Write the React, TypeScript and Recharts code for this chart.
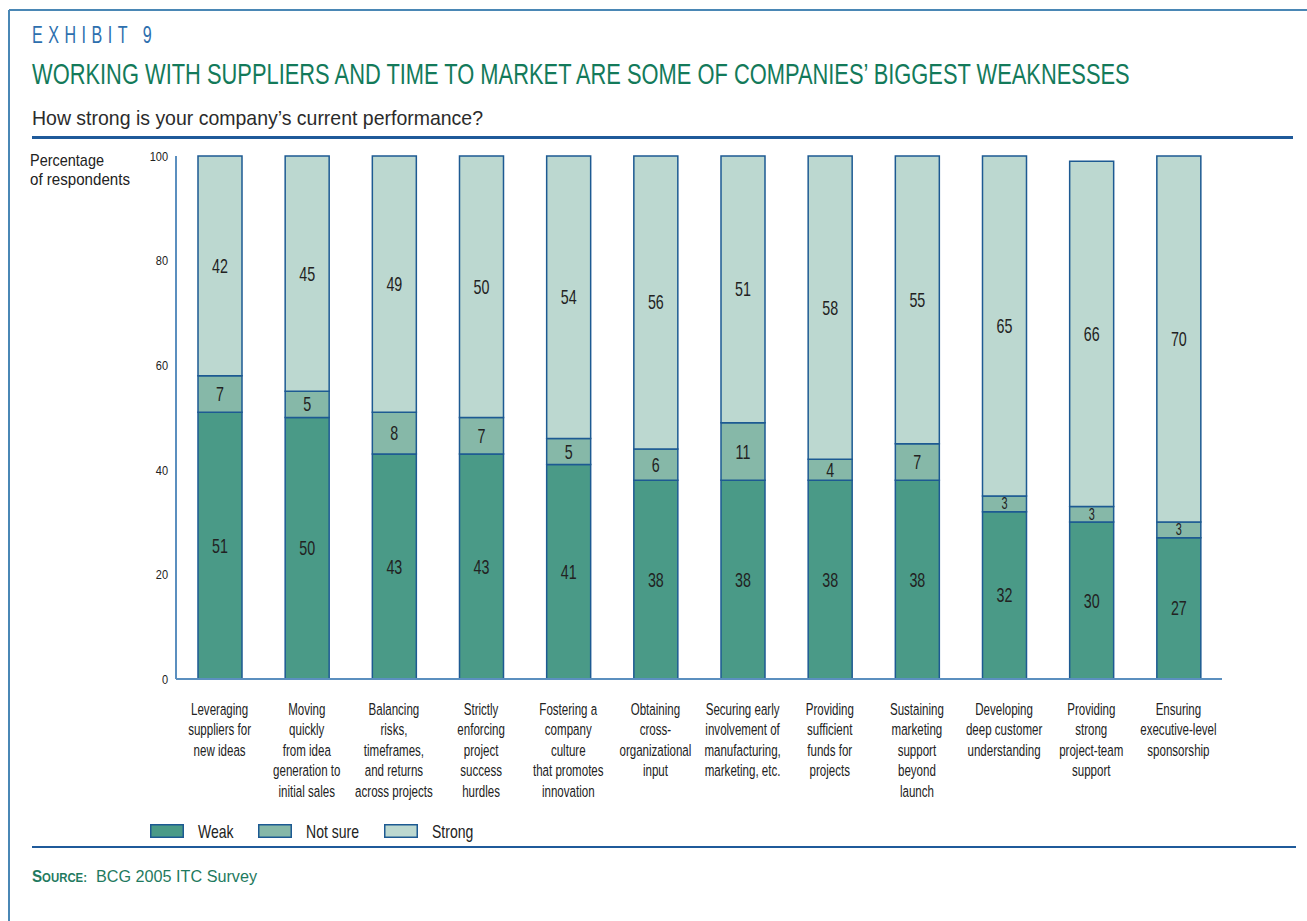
import React from "react";
import { BarChart, Bar, XAxis, YAxis, LabelList } from "recharts";

const categories: string[] = [
  "Leveraging\nsuppliers for\nnew ideas",
  "Moving\nquickly\nfrom idea\ngeneration to\ninitial sales",
  "Balancing\nrisks,\ntimeframes,\nand returns\nacross projects",
  "Strictly\nenforcing\nproject\nsuccess\nhurdles",
  "Fostering a\ncompany\nculture\nthat promotes\ninnovation",
  "Obtaining\ncross-\norganizational\ninput",
  "Securing early\ninvolvement of\nmanufacturing,\nmarketing, etc.",
  "Providing\nsufficient\nfunds for\nprojects",
  "Sustaining\nmarketing\nsupport\nbeyond\nlaunch",
  "Developing\ndeep customer\nunderstanding",
  "Providing\nstrong\nproject-team\nsupport",
  "Ensuring\nexecutive-level\nsponsorship",
];
const weak: number[] = [51, 50, 43, 43, 41, 38, 38, 38, 38, 32, 30, 27];
const notSure: number[] = [7, 5, 8, 7, 5, 6, 11, 4, 7, 3, 3, 3];
const strong: number[] = [42, 45, 49, 50, 54, 56, 51, 58, 55, 65, 66, 70];
const yTicks: number[] = [0, 20, 40, 60, 80, 100];
const seriesNames: string[] = ["Weak", "Not sure", "Strong"];

const data = categories.map((c, i) => ({
  name: c,
  weak: weak[i],
  notSure: notSure[i],
  strong: strong[i],
}));

const FONT = '"Liberation Sans", Arial, sans-serif';
const C_WEAK = "#4a9a87";
const C_NS = "#86b8a8";
const C_STRONG = "#bcd8d0";
const C_STROKE = "#1d5a92";
const C_AXIS = "#5b8fbf";
const C_TEXT = "#222";

const XTick = (props: any) => {
  const { x, y, payload } = props;
  const lines = String(payload.value).split("\n");
  return (
    <g transform={`translate(${x},${y})`}>
      <text transform="scale(0.68,1)" textAnchor="middle" fontFamily={FONT} fontSize={17} fill={C_TEXT}>
        {lines.map((l, i) => (
          <tspan key={i} x={0} dy={i === 0 ? 28 : 20.5}>
            {l}
          </tspan>
        ))}
      </text>
    </g>
  );
};

const YTick = (props: any) => {
  const { x, y, payload } = props;
  return (
    <g transform={`translate(${x},${y})`}>
      <text transform="scale(0.88,1)" textAnchor="end" dominantBaseline="central" fontFamily={FONT} fontSize={12.5} fill={C_TEXT}>
        {payload.value}
      </text>
    </g>
  );
};

const SegLabel = (props: any) => {
  const { x, y, width, height, value } = props;
  const fs = value <= 3 ? 16 : 21;
  return (
    <g transform={`translate(${x + width / 2},${y + height / 2})`}>
      <text
        transform="scale(0.68,1)"
        textAnchor="middle"
        dominantBaseline="central"
        fontFamily={FONT}
        fontSize={fs}
        fill={C_TEXT}
      >
        {value}
      </text>
    </g>
  );
};

const legendColors = [C_WEAK, C_NS, C_STRONG];
const legendLefts = [150, 258, 384];

export default function App() {
  return (
    <div
      style={{
        position: "absolute",
        left: 0,
        top: 0,
        width: 1307,
        height: 921,
        overflow: "hidden",
        background: "#fff",
      }}
    >
      <div style={{ position: "absolute", left: 0, top: 0 }}>
        <BarChart
          width={1307}
          height={921}
          data={data}
          margin={{ top: 156, left: 136, right: 85, bottom: 112 }}
          barCategoryGap={0}
        >
          <XAxis
            dataKey="name"
            height={130}
            interval={0}
            tickLine={false}
            axisLine={{ stroke: C_AXIS, strokeWidth: 2 }}
            tick={<XTick />}
          />
          <YAxis
            width={40}
            domain={[0, 100]}
            ticks={yTicks}
            tickLine={false}
            axisLine={{ stroke: C_AXIS, strokeWidth: 2 }}
            tick={<YTick />}
            interval={0}
          />
          <Bar dataKey="weak" name={seriesNames[0]} stackId="a" barSize={44} fill={C_WEAK} stroke={C_STROKE} strokeWidth={1.5} isAnimationActive={false}>
            <LabelList dataKey="weak" content={<SegLabel />} />
          </Bar>
          <Bar dataKey="notSure" name={seriesNames[1]} stackId="a" barSize={44} fill={C_NS} stroke={C_STROKE} strokeWidth={1.5} isAnimationActive={false}>
            <LabelList dataKey="notSure" content={<SegLabel />} />
          </Bar>
          <Bar dataKey="strong" name={seriesNames[2]} stackId="a" barSize={44} fill={C_STRONG} stroke={C_STROKE} strokeWidth={1.5} isAnimationActive={false}>
            <LabelList dataKey="strong" content={<SegLabel />} />
          </Bar>
        </BarChart>
      </div>

      <svg
        width={1307}
        height={921}
        style={{ position: "absolute", left: 0, top: 0, pointerEvents: "none" }}
      >
        {/* frame */}
        <line x1={9} y1={10} x2={1307} y2={10} stroke="#4a87b5" strokeWidth={2} />
        <line x1={9} y1={10} x2={9} y2={921} stroke="#4a87b5" strokeWidth={2} />

        {/* exhibit label */}
        <g transform="translate(32,43) scale(0.7,1)">
          <text x={0} y={0} fontFamily={FONT} fontSize={23} fill="#2d6fae" textLength={171} lengthAdjust="spacing">
            EXHIBIT 9
          </text>
        </g>
        {/* title */}
        <g transform="translate(32,84) scale(0.729,1)">
          <text x={0} y={0} fontFamily={FONT} fontSize={30} fill="#137a5a">
            WORKING WITH SUPPLIERS AND TIME TO MARKET ARE SOME OF COMPANIES’ BIGGEST WEAKNESSES
          </text>
        </g>
        {/* subtitle */}
        <text x={32} y={125} fontFamily={FONT} fontSize={21} fill="#2b2b2b" textLength={451} lengthAdjust="spacingAndGlyphs">
          How strong is your company’s current performance?
        </text>
        <line x1={32} y1={137.5} x2={1293} y2={137.5} stroke="#1f5a9a" strokeWidth={3} />

        {/* y axis title */}
        <text x={30} y={166} fontFamily={FONT} fontSize={17} fill={C_TEXT} textLength={74} lengthAdjust="spacingAndGlyphs">
          Percentage
        </text>
        <text x={30} y={185} fontFamily={FONT} fontSize={17} fill={C_TEXT} textLength={100} lengthAdjust="spacingAndGlyphs">
          of respondents
        </text>

        {/* legend */}
        {seriesNames.map((n, i) => (
          <g key={n}>
            <rect
              x={legendLefts[i] + 0.75}
              y={824.75}
              width={32.5}
              height={12.5}
              fill={legendColors[i]}
              stroke={C_STROKE}
              strokeWidth={1.5}
            />
            <g transform={`translate(${legendLefts[i] + 48},838) scale(0.78,1)`}>
              <text x={0} y={0} fontFamily={FONT} fontSize={18} fill={C_TEXT}>
                {n}
              </text>
            </g>
          </g>
        ))}
        <line x1={32} y1={847} x2={1296} y2={847} stroke="#1f5a9a" strokeWidth={2} />

        {/* source */}
        <text x={32} y={882} fontFamily={FONT} fontSize={16} fontWeight={700} fill="#1f7a60" textLength={55} lengthAdjust="spacingAndGlyphs">
          S<tspan fontSize={12}>OURCE:</tspan>
        </text>
        <text x={96} y={882} fontFamily={FONT} fontSize={16} fill="#1f7a60" textLength={161} lengthAdjust="spacingAndGlyphs">
          BCG 2005 ITC Survey
        </text>
      </svg>
    </div>
  );
}
